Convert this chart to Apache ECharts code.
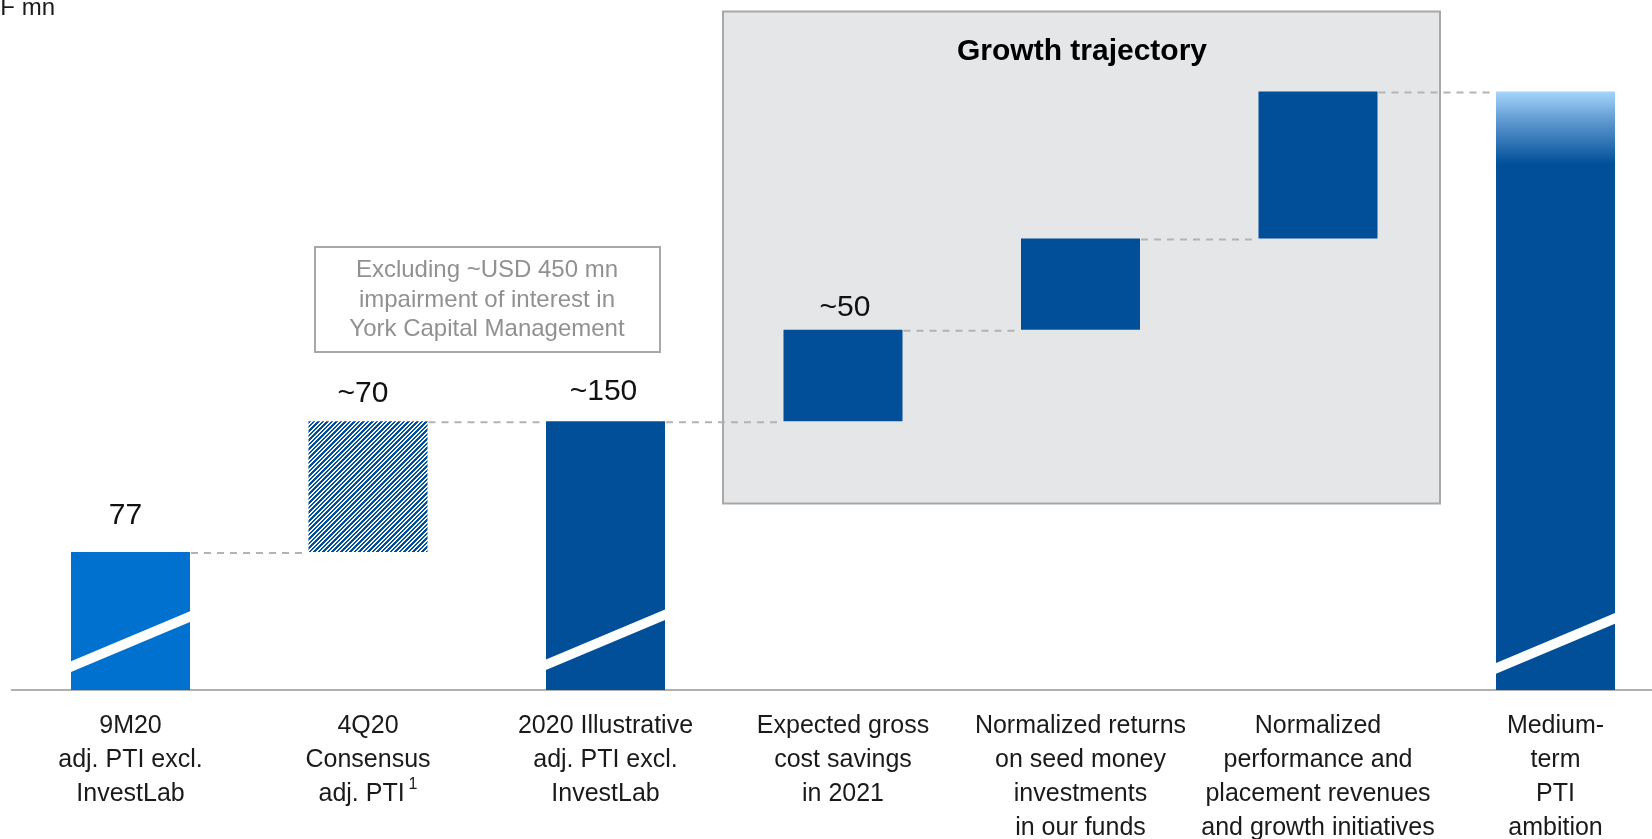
<!DOCTYPE html>
<html>
<head>
<meta charset="utf-8">
<script src="https://cdn.jsdelivr.net/npm/echarts@6/dist/echarts.min.js"></script>
<style>
  html, body { margin: 0; padding: 0; background: #fff; }
  #main { width: 1652px; height: 839px; }
</style>
</head>
<body>
<div id="main"></div>
<script>
// waterfall data
var categories = [
  '9M20\nadj. PTI excl.\nInvestLab',
  '4Q20\nConsensus\nadj. PTI¹',
  '2020 Illustrative\nadj. PTI excl.\nInvestLab',
  'Expected gross\ncost savings\nin 2021',
  'Normalized returns\non seed money\ninvestments\nin our funds',
  'Normalized\nperformance and\nplacement revenues\nand growth initiatives',
  'Medium-\nterm\nPTI\nambition'
];
var baseValues = [0, 77, 0, 150, 201, 252, 0];
var barValues = [77, 73, 150, 51, 51, 82, 334];
var valueLabels = ['77', '~70', '~150', '~50', '', '', ''];
// bars with a broken-axis slash: [category index, value]
var breaks = [[0, 27], [2, 28], [6, 26]];

var BLUE = '#0071ce';
var DARK = '#004f98';
var HALF = 59.5;

// hatch pattern for the consensus bar
function hatch() {
  var c = document.createElement('canvas');
  c.width = 9; c.height = 9;
  var ctx = c.getContext('2d');
  var img = ctx.createImageData(9, 9);
  for (var y = 0; y < 9; y++) {
    for (var x = 0; x < 9; x++) {
      var k = (y * 9 + x) * 4;
      var on = ((x + y) % 4.5) < 2.4;
      img.data[k] = on ? 0 : 255;
      img.data[k + 1] = on ? 80 : 255;
      img.data[k + 2] = on ? 160 : 255;
      img.data[k + 3] = 255;
    }
  }
  ctx.putImageData(img, 0, 0);
  return c;
}

var labelDist = [21, 12, 14, 7, 0, 0, 0];
var labelOff = [[-5, 0], [-5, 0], [-2, 0], [2, 0], [0, 0], [0, 0], [0, 0]];

var barData = barValues.map(function (v, i) {
  var item = {
    value: v,
    label: {
      show: valueLabels[i] !== '',
      position: 'top',
      formatter: valueLabels[i],
      distance: labelDist[i],
      offset: labelOff[i]
    }
  };
  if (i === 0) item.itemStyle = { color: BLUE };
  if (i === 1) item.itemStyle = { color: { image: hatch(), repeat: 'repeat' } };
  if (i === 6) item.itemStyle = {
    color: {
      type: 'linear', x: 0, y: 0, x2: 0, y2: 1,
      colorStops: [
        { offset: 0, color: '#a6d5fc' },
        { offset: 0.05, color: '#5e98d0' },
        { offset: 0.122, color: DARK },
        { offset: 1, color: DARK }
      ]
    }
  };
  return item;
});

// dashed connectors from the top of each bar to the next one
var connectors = [];
for (var i = 0; i < barValues.length - 1; i++) {
  connectors.push([i, baseValues[i] + barValues[i]]);
}

var chart = echarts.init(document.getElementById('main'));
var option = {
  animation: false,
  textStyle: { fontFamily: '"Liberation Sans", Arial, sans-serif' },
  grid: { left: 11.75, width: 1662.5, top: 9, bottom: 149, outerBoundsMode: 'none', containLabel: false },
  xAxis: {
    type: 'category',
    data: categories,
    axisLine: { lineStyle: { color: '#b0b0b0', width: 2 } },
    axisTick: { show: false },
    axisLabel: {
      interval: 0,
      margin: 19,
      fontSize: 25,
      lineHeight: 34,
      color: '#1a1a1a',
      formatter: function (v) { return v.replace('¹', '{sup|1}'); },
      rich: {
        sup: { fontSize: 16, lineHeight: 12, verticalAlign: 'top', padding: [0, 0, 0, 4], color: '#1a1a1a' }
      }
    }
  },
  yAxis: {
    type: 'value',
    min: 0,
    max: 380,
    show: false,
    splitLine: { show: false }
  },
  graphic: [
    {
      type: 'rect', z: -10,
      shape: { x: 723, y: 11.5, width: 717, height: 492 },
      style: { fill: '#e5e6e8', stroke: '#a8a8a8', lineWidth: 2 }
    },
    {
      type: 'text', z: -9, x: 1082, y: 52,
      style: {
        text: 'Growth trajectory', fill: '#000', align: 'center', verticalAlign: 'middle',
        font: 'bold 30px "Liberation Sans", Arial, sans-serif'
      }
    },
    {
      type: 'rect', z: -10,
      shape: { x: 315, y: 247, width: 345, height: 105 },
      style: { fill: '#fff', stroke: '#a8a8a8', lineWidth: 2 }
    },
    {
      type: 'text', z: -9, x: 487, y: 300,
      style: {
        text: 'Excluding ~USD 450 mn\nimpairment of interest in\nYork Capital Management',
        fill: '#919191', align: 'center', verticalAlign: 'middle', lineHeight: 29.5,
        font: '24px "Liberation Sans", Arial, sans-serif'
      }
    },
    {
      type: 'text', x: 55, y: 8,
      style: {
        text: 'CHF mn', fill: '#1a1a1a', align: 'right', verticalAlign: 'middle',
        font: '24px "Liberation Sans", Arial, sans-serif'
      }
    }
  ],
  series: [
    {
      name: 'base',
      type: 'bar',
      stack: 'total',
      barWidth: 119,
      itemStyle: { color: 'transparent' },
      data: baseValues
    },
    {
      name: 'value',
      type: 'bar',
      stack: 'total',
      barWidth: 119,
      itemStyle: { color: DARK },
      label: { color: '#111', fontSize: 30 },
      data: barData
    },
    {
      name: 'connector',
      type: 'custom',
      z: 1,
      renderItem: function (params, api) {
        var p1 = api.coord([api.value(0), api.value(1)]);
        var p2 = api.coord([api.value(0) + 1, api.value(1)]);
        return {
          type: 'line',
          shape: { x1: p1[0] + HALF + 1, y1: p1[1] + 1, x2: p2[0] - HALF - 3, y2: p1[1] + 1 },
          style: { stroke: '#b3b3b3', lineWidth: 2, lineDash: [7, 6] }
        };
      },
      data: connectors
    },
    {
      name: 'break',
      type: 'custom',
      z: 5,
      renderItem: function (params, api) {
        var c = api.coord([api.value(0), api.value(1)]);
        var x0 = c[0] - HALF, x1 = c[0] + HALF, y = c[1];
        return {
          type: 'polygon',
          shape: { points: [[x0, y + 25 - 5.3], [x1, y - 25 - 5.3], [x1, y - 25 + 5.3], [x0, y + 25 + 5.3]] },
          style: { fill: '#fff' }
        };
      },
      data: breaks
    }
  ]
};
chart.setOption(option);
</script>
</body>
</html>
